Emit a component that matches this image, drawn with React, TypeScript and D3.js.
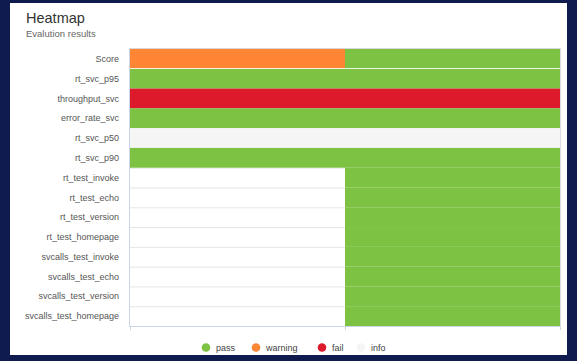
import React from "react";
import * as d3 from "d3";

const rows = [
  "Score",
  "rt_svc_p95",
  "throughput_svc",
  "error_rate_svc",
  "rt_svc_p50",
  "rt_svc_p90",
  "rt_test_invoke",
  "rt_test_echo",
  "rt_test_version",
  "rt_test_homepage",
  "svcalls_test_invoke",
  "svcalls_test_echo",
  "svcalls_test_version",
  "svcalls_test_homepage",
];
const columns = ["run1", "run2"];
const run1Status = ["warning", "pass", "fail", "pass", "info", "pass", null, null, null, null, null, null, null, null];
const run2Status = ["pass", "pass", "fail", "pass", "info", "pass", "pass", "pass", "pass", "pass", "pass", "pass", "pass", "pass"];
const statuses = ["pass", "warning", "fail", "info"];
const statusColors = ["#7dc242", "#fe8533", "#dc1a2b", "#f5f5f5"];

const W = 577;
const H = 361;

export default function App() {
  const y = d3.scaleBand<string>().domain(rows).range([49, 326]).padding(0);
  const x = d3.scaleBand<string>().domain(columns).range([130, 560]).padding(0);
  const color = d3.scaleOrdinal<string, string>().domain(statuses).range(statusColors);
  const cells: { row: string; col: string; s: string }[] = [];
  rows.forEach((r, i) => {
    if (run1Status[i]) cells.push({ row: r, col: columns[0], s: run1Status[i] as string });
    if (run2Status[i]) cells.push({ row: r, col: columns[1], s: run2Status[i] as string });
  });
  const legendX = [206, 256, 322, 361];
  const font = "'Liberation Sans', Arial, sans-serif";
  return (
    <svg
      width={W}
      height={H}
      style={{ position: "absolute", left: 0, top: 0, display: "block" }}
      fontFamily={font}
    >
      <rect x={0} y={0} width={W} height={H} fill="#0f1b4e" />
      <rect x={10} y={3} width={557} height={352} fill="#ffffff" />
      <text x={26} y={23} fontSize={14.5} fill="#333333">Heatmap</text>
      <text x={26} y={37} fontSize={9.5} fill="#666666">Evalution results</text>
      {/* grid lines */}
      {rows.map((r) => (
        <line key={"g" + r} x1={130} x2={560} y1={(y(r) as number) + 0.5} y2={(y(r) as number) + 0.5} stroke="#e6e6e6" />
      ))}
      <line x1={130} x2={560} y1={48.5} y2={48.5} stroke="#d8d8d8" />
      {cells.map((c, i) => (
        <rect
          key={i}
          x={x(c.col)}
          y={y(c.row)}
          width={x.bandwidth()}
          height={y.bandwidth()}
          fill={color(c.s)}
        />
      ))}
      <line x1={130} x2={560} y1={68.5} y2={68.5} stroke="#ffffff" strokeOpacity={0.8} />
      <line x1={560.5} x2={560.5} y1={48} y2={326} stroke="#dddddd" />
      {/* axes */}
      <line x1={129.5} x2={129.5} y1={48} y2={326} stroke="#ccd6eb" />
      <line x1={129} x2={560} y1={326.5} y2={326.5} stroke="#ccd6eb" />
      {[130, 345, 560].map((t) => (
        <line key={t} x1={t + 0.5} x2={t + 0.5} y1={326} y2={330} stroke="#ccd6eb" />
      ))}
      {rows.map((r) => (
        <text
          key={r}
          x={119}
          y={(y(r) as number) + y.bandwidth() / 2}
          dy="0.35em"
          textAnchor="end"
          fontSize={9}
          fill="#555555"
        >
          {r}
        </text>
      ))}
      {statuses.map((s, i) => (
        <g key={s}>
          <circle cx={legendX[i]} cy={347.5} r={4.3} fill={color(s)} />
          <text x={legendX[i] + 10} y={347.5} dy="0.35em" fontSize={9} fill="#444444">
            {s}
          </text>
        </g>
      ))}
    </svg>
  );
}
